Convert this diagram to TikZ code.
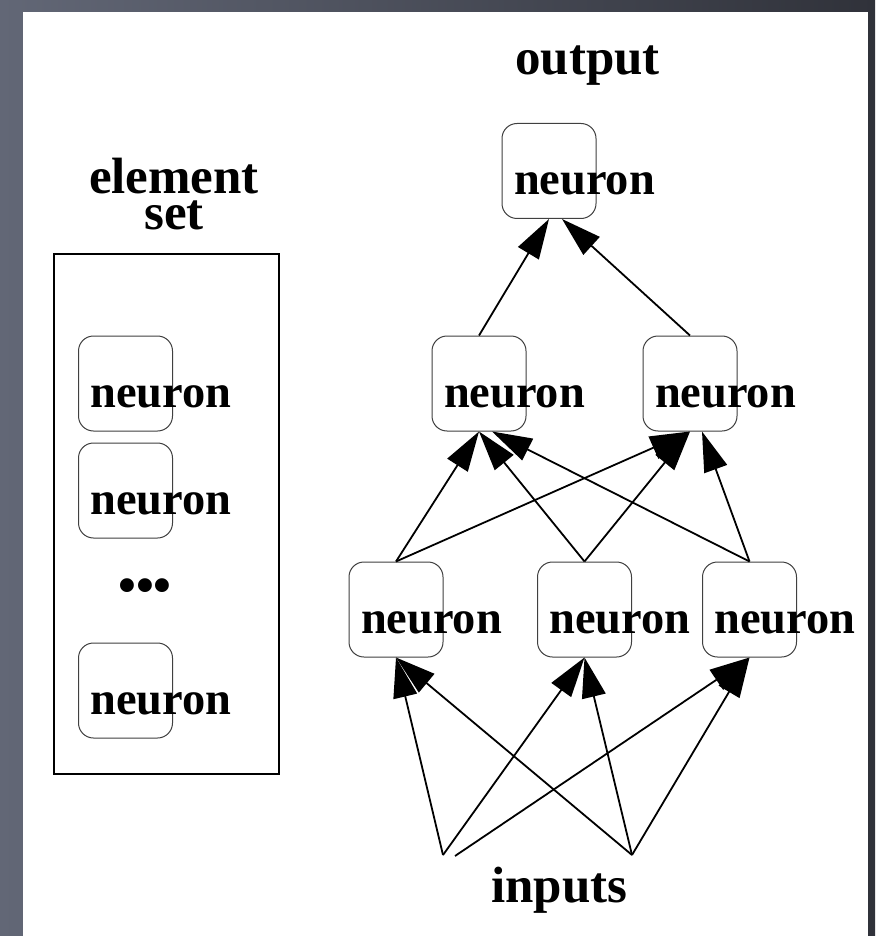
\documentclass[tikz,border=0pt]{standalone}
\usepackage{fontspec}
\setmainfont{Liberation Serif}
\usetikzlibrary{arrows.meta}
\definecolor{slateL}{RGB}{98,103,118}
\definecolor{slateR}{RGB}{48,50,58}
\tikzset{
  neuron/.style ={rectangle, draw=black!75, line width=0.5pt, rounded corners=7.5pt,
                  inner sep=0pt, inner xsep=6pt, text width=35pt, align=left,
                  text height=35.5pt, text depth=12pt,
                  font=\bfseries\fontsize{23.2}{28}\selectfont},
  ttl/.style    ={inner sep=0pt, font=\bfseries\fontsize{25.5}{18}\selectfont},
  setbox/.style ={rectangle, draw, line width=0.9pt, inner sep=0pt,
                  minimum width=112.5pt, minimum height=260pt},
  arr/.style    ={-{Triangle[length=20pt, width=12pt]}, line width=0.9pt}
}
\newcommand{\nrn}{\rlap{neuron}}

\begin{document}
\begin{tikzpicture}[x=0.5pt, y=-0.5pt]
    % slide background
    \useasboundingbox (0,0) rectangle (875,936);
    \shade[left color=slateL, right color=slateR] (0,0) rectangle (875,936);
    \fill[white] (23,12) rectangle (868,936);

    % element set
    \node[ttl, align=center, anchor=south] (setlbl) at (174,230) {element\\set};
    \node[setbox] (elset) at (166.5,514) {};
    \node[neuron] (e1) at (125.5,383.5) {\nrn};
    \node[neuron] (e2) at (125.5,490.5) {\nrn};
    \node[ttl] (dots) at (145,591) {•••};
    \node[neuron] (e3) at (125.5,690.5) {\nrn};

    % network
    \node[ttl, anchor=base] (outlbl) at (587.5,75) {output};
    \node[neuron] (top) at (549,171) {\nrn};
    \node[neuron] (m1) at (479,383.5) {\nrn};
    \node[neuron] (m2) at (690,383.5) {\nrn};
    \node[neuron] (b1) at (396,609.5) {\nrn};
    \node[neuron] (b2) at (584.5,609.5) {\nrn};
    \node[neuron] (b3) at (749.5,609.5) {\nrn};
    \node[ttl, anchor=base] (inlbl) at (559.5,902) {inputs};
    \coordinate (in1) at (443,855);
    \coordinate (in1r) at (455,856);
    \coordinate (in2) at (632,855);

    \draw[arr] (in1) -- (b1.south);
    \draw[arr] (in1) -- (b2.south);
    \draw[arr] (in1r) -- (b3.south);
    \draw[arr] (in2) -- (b1.south);
    \draw[arr] (in2) -- (b2.south);
    \draw[arr] (in2) -- (b3.south);

    \draw[arr] (b1.north) -- (m1.south);
    \draw[arr] (b1.north) -- (m2.south);
    \draw[arr] (b2.north) -- (m1.south);
    \draw[arr] (b2.north) -- (m2.south);
    \draw[arr] (b3.north) -- ([xshift=6.5pt]m1.south);
    \draw[arr] (b3.north) -- ([xshift=6pt]m2.south);

    \draw[arr] (m1.north) -- (top.south);
    \draw[arr] (m2.north) -- ([xshift=6.5pt]top.south);
\end{tikzpicture}
\end{document}
